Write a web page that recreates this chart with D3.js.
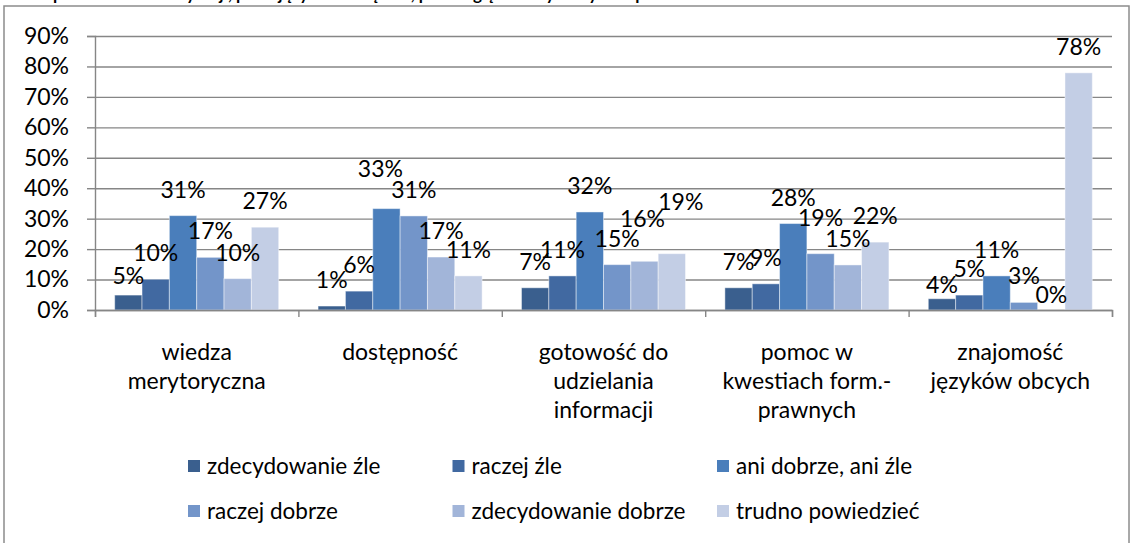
<!DOCTYPE html>
<html>
<head>
<meta charset="utf-8">
<script src="https://cdn.jsdelivr.net/npm/d3@7"></script>
<style>
    body { margin: 0; background: #fff; }
    svg { display: block; font-family: Lato, "Open Sans", sans-serif; }
    .grid line { stroke: #868686; stroke-width: 1.4; }
    .grid path { display: none; }
    .axis path, .axis line { stroke: #868686; stroke-width: 1.4; }
    .axis text { font-size: 23px; fill: #000; font-family: Lato, sans-serif; }
    .lbl { font-size: 23px; fill: #000; text-anchor: middle; }
    .cat { font-size: 23px; fill: #000; text-anchor: middle; }
    .legend-text { font-size: 22.5px; fill: #000; }
</style>
</head>
<body>
<svg id="chart" width="1132" height="543"></svg>
<script>
// categories (line broken as in the chart)
var categories = [
    ["wiedza", "merytoryczna"],
    ["dostępność"],
    ["gotowość do", "udzielania", "informacji"],
    ["pomoc w", "kwestiach form.-", "prawnych"],
    ["znajomość", "języków obcych"]
];

var seriesNames = [
    "zdecydowanie źle",
    "raczej źle",
    "ani dobrze, ani źle",
    "raczej dobrze",
    "zdecydowanie dobrze",
    "trudno powiedzieć"
];

// values in %, one array per series
var zdecydowanieZle    = [4.9, 1.3, 7.3, 7.3, 3.7];
var raczejZle          = [10.1, 6.2, 11.2, 8.6, 4.9];
var aniDobrzeAniZle    = [31.0, 33.3, 32.2, 28.4, 11.2];
var raczejDobrze       = [17.3, 30.9, 14.9, 18.5, 2.5];
var zdecydowanieDobrze = [10.3, 17.4, 16.0, 14.8, 0];
var trudnoPowiedziec   = [27.2, 11.2, 18.5, 22.3, 77.9];

var yTicks = [0, 10, 20, 30, 40, 50, 60, 70, 80, 90];

var title = "Ocena pracowników instytucji, pracujących w urzędzie, pod względem wybranych aspektów";

var series = [zdecydowanieZle, raczejZle, aniDobrzeAniZle, raczejDobrze, zdecydowanieDobrze, trudnoPowiedziec];
var colors = ["#3a5f8e", "#4169a1", "#4a7ebb", "#7395c9", "#a2b5d9", "#c3cee5"];

// manual label nudges (px), like the hand-moved labels of the original, key = "cat-series"
var labelNudge = {
    "0-0": [0, 7],
    "1-2": [-6, -14],
    "2-4": [-2, -16],
    "2-5": [9, -26],
    "3-3": [0, -10],
    "4-0": [0, 12],
    "4-4": [0, 11]
};

var svg = d3.select("#chart");
var margin = { top: 36, right: 20, bottom: 233, left: 95 },
    width = 1112 - margin.left,
    height = 310 - margin.top;

// outer frame
svg.append("rect")
    .attr("x", 4).attr("y", 6)
    .attr("width", 1125).attr("height", 560)
    .attr("fill", "none")
    .attr("stroke", "#8c8c8c")
    .attr("stroke-width", 1.5);

// title, mostly cut off at the top edge
svg.append("text")
    .attr("x", 0).attr("y", -0.5)
    .style("font-weight", "bold")
    .style("font-size", "17px")
    .text(title);

var g = svg.append("g").attr("transform", `translate(${margin.left},${margin.top})`);

var y = d3.scaleLinear().domain([0, 90]).range([height, 0]);
var x0 = d3.scaleBand().domain(d3.range(categories.length)).range([0, width]);
var x1 = d3.scaleBand().domain(d3.range(series.length)).range([0, x0.bandwidth()]).paddingOuter(0.72);

// gridlines
g.append("g")
    .classed("grid", true)
    .call(d3.axisLeft(y).tickValues(yTicks).tickSize(-width).tickFormat(""));

// y axis
g.append("g")
    .classed("axis", true)
    .call(d3.axisLeft(y).tickValues(yTicks).tickSize(8).tickPadding(18).tickFormat(d => d + "%"));

// bars
for (let s = 0; s < series.length; s++) {
    g.selectAll(null)
        .data(series[s])
        .enter()
        .append("rect")
        .attr("x", (d, i) => x0(i) + x1(s))
        .attr("y", d => y(d))
        .attr("width", x1.bandwidth())
        .attr("height", d => height - y(d))
        .attr("fill", colors[s])
        .attr("stroke", "rgba(255,255,255,0.45)")
        .attr("stroke-width", 1);
}

// x axis with tick marks at category boundaries
var xb = d3.scaleLinear().domain([0, categories.length]).range([0, width]);
g.append("g")
    .classed("axis", true)
    .attr("transform", `translate(0,${height})`)
    .call(d3.axisBottom(xb).ticks(categories.length).tickSize(7).tickSizeOuter(7).tickFormat(""));

// data labels
for (let s = 0; s < series.length; s++) {
    g.selectAll(null)
        .data(series[s])
        .enter()
        .append("text")
        .classed("lbl", true)
        .attr("x", (d, i) => x0(i) + x1(s) + x1.bandwidth() / 2 + (labelNudge[i + "-" + s] || [0, 0])[0])
        .attr("y", (d, i) => y(d) - 26 + (labelNudge[i + "-" + s] || [0, 0])[1])
        .attr("dy", "0.35em")
        .text(d => Math.round(d) + "%");
}

// category labels
categories.forEach((lines, i) => {
    var t = g.append("text")
        .classed("cat", true)
        .attr("x", x0(i) + x0.bandwidth() / 2)
        .attr("y", height + 42);
    lines.forEach((line, k) => {
        t.append("tspan")
            .attr("x", x0(i) + x0.bandwidth() / 2)
            .attr("dy", k === 0 ? "0.35em" : 29)
            .text(line);
    });
});

// legend: 3 columns, 2 rows
var legend = svg.append("g").attr("id", "legend").attr("transform", "translate(188,466)");
var legendEntries = legend.selectAll(null).data(seriesNames).enter()
    .append("g")
    .attr("transform", (d, i) => `translate(${(i % 3) * 264.5},${Math.floor(i / 3) * 45})`);
legendEntries.append("rect")
    .attr("x", 0).attr("y", -6)
    .attr("width", 12).attr("height", 12)
    .attr("fill", (d, i) => colors[i]);
legendEntries.append("text")
    .classed("legend-text", true)
    .attr("x", 19)
    .attr("dy", "0.35em")
    .text(d => d);
</script>
</body>
</html>
